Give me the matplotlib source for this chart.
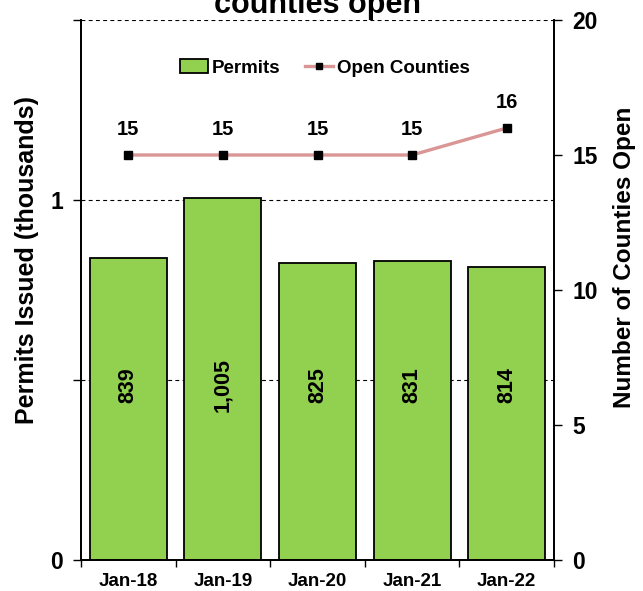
import matplotlib
matplotlib.use("Agg")
import matplotlib.pyplot as plt
from matplotlib.lines import Line2D
from matplotlib.patches import Patch

categories = ["Jan-18", "Jan-19", "Jan-20", "Jan-21", "Jan-22"]
permits = [839, 1005, 825, 831, 814]          # permits issued
open_counties = [15, 15, 15, 15, 16]
left_ticks = [0, 0.5, 1, 1.5]
left_tick_labels = ["0", "", "1", ""]
right_ticks = [0, 5, 10, 15, 20]

plt.rcParams['font.family'] = ['Liberation Sans', 'DejaVu Sans']
plt.rcParams['font.weight'] = 'bold'

fig = plt.figure(figsize=(6.43, 5.91), dpi=100)
W, H = 643, 591
ax = fig.add_axes([81 / W, 1 - 560 / H, (554 - 81) / W, (560 - 20) / H])
ax2 = ax.twinx()

green = "#92D050"
line_col = "#D99694"

x = list(range(len(categories)))
vals = [p / 1000 for p in permits]
ax.bar(x, vals, width=0.815, color=green, edgecolor="black", linewidth=1.3, zorder=2)
for xi, p in zip(x, permits):
    ax.text(xi, 0.485, f"{p:,}", rotation=90, ha="center", va="center",
            fontsize=15.5, fontweight="bold", zorder=3)

ax.set_xlim(-0.5, len(categories) - 0.5)
ax.set_ylim(0, 1.5)
ax.set_yticks(left_ticks)
ax.set_yticklabels(left_tick_labels)
for yv in left_ticks[1:]:
    ax.axhline(yv, color="black", linestyle=(0, (3.5, 3)), linewidth=0.8, zorder=1)

ax.set_xticks([i - 0.5 for i in range(len(categories) + 1)], minor=False)
ax.set_xticklabels([])
ax.set_xticks(x, minor=True)
ax.set_xticklabels(categories, minor=True, fontsize=13.5, fontweight="bold")
ax.tick_params(axis="x", which="minor", length=0, pad=9)
ax.tick_params(axis="x", which="major", length=5, width=1, direction="out")
ax.tick_params(axis="y", length=6, width=1, direction="out", labelsize=16.5, pad=7)

ax2.plot(x, open_counties, color=line_col, linewidth=2.4, marker="s",
         markersize=6, markerfacecolor="black", markeredgecolor="black", zorder=4)
for xi, v in zip(x, open_counties):
    ax2.text(xi, v + 0.6, str(v), ha="center", va="bottom",
             fontsize=14.5, fontweight="bold")
ax2.set_ylim(0, 20)
ax2.set_yticks(right_ticks)
ax2.tick_params(axis="y", length=6, width=1, direction="out", labelsize=16.5, pad=7)

for a in (ax, ax2):
    a.spines["top"].set_visible(False)
    for s in ("left", "right", "bottom"):
        a.spines[s].set_linewidth(1.3)

ax.set_ylabel("Permits Issued (thousands)", fontsize=18, fontweight="bold")
ax.yaxis.set_label_coords(-0.088, 0.555)
ax2.set_ylabel("Number of Counties Open", fontsize=17.5, fontweight="bold")
ax2.yaxis.set_label_coords(1.124, 0.56)

handles = [Patch(facecolor=green, edgecolor="black", linewidth=1.3),
           Line2D([0], [0], color=line_col, linewidth=2.4, marker="s", markersize=5,
                  markerfacecolor="black", markeredgecolor="black")]
ax.legend(handles, ["Permits", "Open Counties"], loc="center", bbox_to_anchor=(0.516, 0.911),
          ncol=2, frameon=False, handlelength=1.5, handletextpad=0.2,
          columnspacing=1.3, prop={"weight": "bold", "size": 13.5})

fig.text(0.5 * (81 + 554) / W, 1 - 13 / H, "counties open", ha="center", va="baseline",
         fontsize=22, fontweight="bold")

fig.savefig("out.png", dpi=100)
